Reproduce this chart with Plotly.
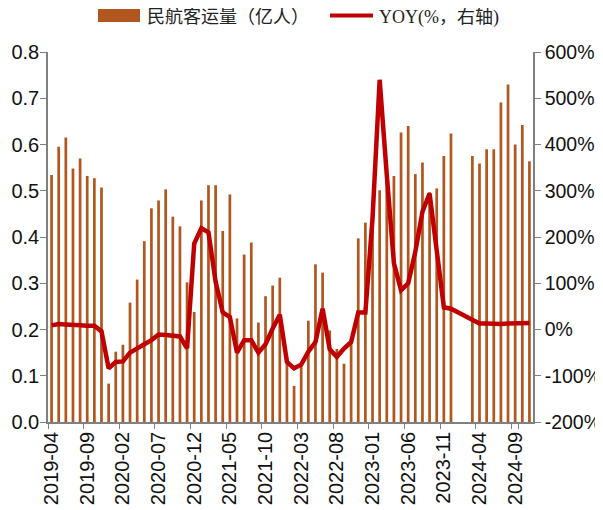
import pandas as pd
import plotly.graph_objects as go

# ---- data ----
months = [p.strftime("%Y-%m") for p in pd.period_range("2019-04", "2024-11", freq="M")]

passengers = [
    0.534, 0.595, 0.615, 0.548, 0.570, 0.532, 0.527, 0.507,
    0.083, 0.152, 0.167, 0.258, 0.308, 0.391, 0.462, 0.479, 0.503,
    0.444, 0.423, 0.302, 0.238, 0.479, 0.512, 0.512, 0.413, 0.492,
    0.224, 0.362, 0.388, 0.215, 0.272, 0.295, 0.312, 0.140,
    0.078, 0.123, 0.219, 0.341, 0.323, 0.198, 0.158, 0.126, 0.172,
    0.397, 0.431, 0.470, 0.501, 0.532, 0.532, 0.626, 0.640,
    0.536, 0.561, 0.497, 0.505, 0.575, 0.624, None, None,
    0.575, 0.559, 0.590, 0.590, 0.691, 0.730, 0.600, 0.642, 0.564,
]

yoy = [
    9, 12, 11, 11, 9, 8, 8, -4,
    -84, -70, -69, -50, -40, -32, -23, -11, -12,
    -14, -15, -41, 186, 219, 210, 103, 37, 27,
    -50, -23, -23, -50, -32, 2, 32, -70,
    -84, -76, -48, -27, 45, -43, -59, -41, -27,
    37, 37, 240, 540, 334, 143, 85, 100,
    168, 255, 294, 168, 48, 45, None, None,
    22, 13, 13, 12, 12, 13, 13, 13, 14,
]

tick_labels = months[0::5]
left_ticks = [0, 0.1, 0.2, 0.3, 0.4, 0.5, 0.6, 0.7, 0.8]
left_ticktext = ["0.0", "0.1", "0.2", "0.3", "0.4", "0.5", "0.6", "0.7", "0.8"]
right_ticks = [-200, -100, 0, 100, 200, 300, 400, 500, 600]
right_ticktext = ["-200%", "-100%", "0%", "100%", "200%", "300%", "400%", "500%", "600%"]

bar_name = "民航客运量（亿人）"
line_name = "YOY(%，右轴)"

BAR_COLOR = "#B0561E"
LINE_COLOR = "#C00000"
AXIS_COLOR = "#808080"
FONT = "Arial, Liberation Sans, sans-serif"

fig = go.Figure()
fig.add_trace(go.Bar(
    x=months, y=passengers, name=bar_name,
    marker=dict(color=BAR_COLOR, line=dict(width=0)),
    width=0.38, yaxis="y", showlegend=False,
))
fig.add_trace(go.Scatter(
    x=months, y=yoy, name=line_name, mode="lines",
    line=dict(color=LINE_COLOR, width=4.5),
    connectgaps=True, yaxis="y2", showlegend=False,
))

# page has an 8px body margin: figure is 595x502 placed at (8, 8)
OFF = 8
FIG_W, FIG_H = 603 - OFF, 510 - OFF
# plot-area edges in page pixels (from the reference)
L, R, T, B = 48, 533, 52, 422
W, H = R - L, B - T
def px(x):
    return (x - L) / W
def py(y):
    return (B - y) / H

fig.add_shape(type="rect", xref="paper", yref="paper",
              x0=px(98), x1=px(140), y0=py(22), y1=py(9),
              fillcolor=BAR_COLOR, line=dict(width=0))
fig.add_shape(type="line", xref="paper", yref="paper",
              x0=px(330), x1=px(373), y0=py(15.5), y1=py(15.5),
              line=dict(color=LINE_COLOR, width=4))
fig.add_annotation(xref="paper", yref="paper", x=px(146), y=py(17),
                   text=bar_name, showarrow=False, xanchor="left", yanchor="middle",
                   borderpad=0,
                   font=dict(family="Liberation Serif, Noto Sans CJK SC", size=18, color="#222"))
fig.add_annotation(xref="paper", yref="paper", x=px(378), y=py(17),
                   text=line_name, showarrow=False, xanchor="left", yanchor="middle",
                   borderpad=0,
                   font=dict(family="Liberation Serif, Noto Sans CJK SC", size=18, color="#222"))

fig.update_layout(
    width=FIG_W, height=FIG_H,
    margin=dict(l=L - OFF, r=603 - R, t=T - OFF, b=510 - B),
    paper_bgcolor="white", plot_bgcolor="white",
    font=dict(family=FONT, size=20, color="#111"),
    bargap=0.6,
    xaxis=dict(
        type="category", categoryorder="array", categoryarray=months,
        tickmode="array", tickvals=tick_labels, ticktext=tick_labels,
        tickangle=-90, tickson="boundaries", ticks="outside", ticklen=5,
        tickcolor=AXIS_COLOR, showline=True, linecolor=AXIS_COLOR, linewidth=1.5,
        showgrid=False, zeroline=False, range=[-0.5, len(months) - 0.5],
        tickfont=dict(size=20), automargin=False,
    ),
    yaxis=dict(
        range=[0, 0.8], tickmode="array", tickvals=left_ticks, ticktext=left_ticktext,
        ticks="outside", ticklen=6, tickcolor=AXIS_COLOR,
        showline=True, linecolor=AXIS_COLOR, linewidth=1.5,
        showgrid=False, zeroline=False, tickfont=dict(size=20),
        ticklabelstandoff=-3, automargin=False,
    ),
    yaxis2=dict(
        overlaying="y", side="right", range=[-200, 600],
        tickmode="array", tickvals=right_ticks, ticktext=right_ticktext,
        ticks="outside", ticklen=6, tickcolor=AXIS_COLOR,
        showline=True, linecolor=AXIS_COLOR, linewidth=1.5,
        showgrid=False, zeroline=False, tickfont=dict(size=19.5),
        ticklabelstandoff=0, automargin=False,
    ),
)

fig.write_html("out.html")
